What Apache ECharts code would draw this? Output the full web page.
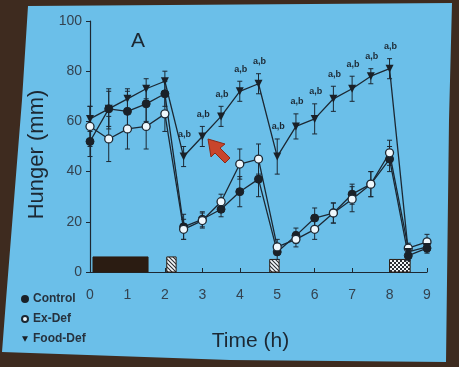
<!DOCTYPE html>
<html><head><meta charset="utf-8">
<script src="https://cdn.jsdelivr.net/npm/echarts@6/dist/echarts.min.js"></script>
<style>html,body{margin:0;padding:0;background:#3e2b1f}#c{width:459px;height:367px}</style>
</head><body><div id="c"></div>
<script>
// ---- data ----
const times       = [0,0.5,1,1.5,2,2.5,3,3.5,4,4.5,5,5.5,6,6.5,7,7.5,8,8.5,9];
const controlVals = [52,65,64,67,71,18,21,25,32,37,8,14.5,21.5,23.5,31,35,45,6.5,9.5];
const controlErr  = [6,8,8,7,5,5,3,3,6,7,3,3,4,4,4,5,5,2,2];
const exDefVals   = [58,53,57,58,63,17,20.5,28,43,45,10,13,17,23.5,29,35,47.5,9.5,12];
const exDefErr    = [8,9,8,9,7,4,3,3,6,6,3,3,4,4,5,5,5,2,3];
const foodDefVals = [61,65,69,73,76,46,54,62,72,75,46,58,61,69,73,78,81,8,10];
const foodDefErr  = [5,7,4,4,4,4,4,4,4,4,7,5,6,5,5,3,4,2,2];
const foodDefAnnot= ['','','','','','a,b','a,b','a,b','a,b','a,b','a,b','a,b','a,b','a,b','a,b','a,b','a,b','',''];
const seriesNames = ['Control','Ex-Def','Food-Def'];
// time periods drawn on the x axis: [start, end, height, kind]
const periodStart = [0.08, 2.05, 4.8, 8.0];
const periodEnd   = [1.55, 2.3, 5.05, 8.55];
const periodH     = [6, 6, 5, 5];
const periodKind  = [0, 1, 1, 2]; // 0 solid, 1 hatch, 2 checker
const xMin = 0, xMax = 9, xStep = 1;
const yMin = 0, yMax = 100, yStep = 20;

const INK = '#1c2833';
function pair(vals){ return times.map((t,i)=>[t, vals[i]]); }
function errData(vals, err){ return times.map((t,i)=>[t, vals[i]-err[i], vals[i]+err[i]]); }

function makeHatch(){
  const c = document.createElement('canvas'); c.width = 4; c.height = 4;
  const g = c.getContext('2d'); g.fillStyle = '#f4f8fb'; g.fillRect(0,0,4,4);
  g.strokeStyle = '#2a2f35'; g.lineWidth = 1.1;
  g.beginPath(); g.moveTo(-1,-1); g.lineTo(5,5); g.moveTo(-1,3); g.lineTo(1,5); g.moveTo(3,-1); g.lineTo(5,1); g.stroke();
  return c;
}
function makeChecker(){
  const c = document.createElement('canvas'); c.width = 4; c.height = 4;
  const g = c.getContext('2d'); g.fillStyle = '#f4f8fb'; g.fillRect(0,0,4,4);
  g.fillStyle = '#2a2f35'; g.fillRect(0,0,2,2); g.fillRect(2,2,2,2);
  return c;
}
const hatch = makeHatch(), checker = makeChecker();

function errRender(annot){
  return function(params, api){
    const x = api.value(0), lo = api.value(1), hi = api.value(2);
    const a = api.coord([x, hi]), b = api.coord([x, lo]);
    const w = 2.5, st = {stroke: INK, lineWidth: 1};
    const ch = [
      {type:'line', shape:{x1:a[0],y1:a[1],x2:b[0],y2:b[1]}, style:st},
      {type:'line', shape:{x1:a[0]-w,y1:a[1],x2:a[0]+w,y2:a[1]}, style:st},
      {type:'line', shape:{x1:b[0]-w,y1:b[1],x2:b[0]+w,y2:b[1]}, style:st}
    ];
    if (annot && annot[params.dataIndex]) {
      ch.push({type:'text', x:a[0]+1, y:a[1]-12, style:{text:annot[params.dataIndex], fill:INK,
        font:'bold 9px "Liberation Sans", Arial, sans-serif', align:'center', verticalAlign:'middle'}});
    }
    return {type:'group', children: ch};
  };
}

const chart = echarts.init(document.getElementById('c'), null, {renderer:'canvas'});
const font = '"Liberation Sans", Arial, sans-serif';
chart.setOption({
  backgroundColor: '#3e2b1f',
  animation: false,
  graphic: [
    {type:'polygon', z:-10, silent:true,
     shape:{points:[[28,6],[452,3],[449,120],[446,362],[230,360],[2,352],[6,300],[14,200],[22,100]]},
     style:{fill:'#6bbfe9'}},
    {type:'polygon', z:100, silent:true,
     shape:{points:[[208,139],[225,144],[220,148],[230,158],[225,163],[215,153],[211,157]]},
     style:{fill:'#c9452c', stroke:'#8a2a18', lineWidth:1}}
  ],
  title: {text:'A', left:126, top:26, textStyle:{fontFamily:font, fontSize:21, fontWeight:'normal', color:INK}},
  legend: {
    orient:'vertical', left:16, top:287, itemWidth:6, itemHeight:6, itemGap:6,
    textStyle:{fontFamily:font, fontSize:12, fontWeight:'bold', color:'#26323e', lineHeight:14},
    data:[
      {name:seriesNames[0], icon:'circle'},
      {name:seriesNames[1], icon:'circle'},
      {name:seriesNames[2], icon:'path://M0,0L10,0L5,9Z'}
    ]
  },
  grid: {left:90, right:32, top:21, bottom:95},
  xAxis: {
    type:'value', min:xMin, max:xMax, interval:xStep,
    name:'Time (h)', nameLocation:'middle', nameGap:59,
    nameTextStyle:{fontFamily:font, fontSize:21, color:INK, padding:[0,16,0,0]},
    axisLine:{lineStyle:{color:INK, width:1.2}},
    axisTick:{inside:true, length:4, lineStyle:{color:INK}},
    axisLabel:{fontFamily:font, fontSize:14, color:'#34424f', margin:16},
    splitLine:{show:false}
  },
  yAxis: {
    type:'value', min:yMin, max:yMax, interval:yStep,
    name:'Hunger (mm)', nameLocation:'middle', nameGap:38,
    nameTextStyle:{fontFamily:font, fontSize:22, color:INK, padding:[0,0,0,-16]},
    axisLine:{show:true, lineStyle:{color:INK, width:1.2}},
    axisTick:{show:true, inside:false, length:4, lineStyle:{color:INK}},
    axisLabel:{fontFamily:font, fontSize:14, color:'#34424f', margin:8},
    splitLine:{show:false}
  },
  series: [
    {type:'custom', name:'periods', silent:true, z:1,
     data: periodStart.map((s,i)=>[s, periodEnd[i], periodH[i], periodKind[i]]),
     renderItem:function(params, api){
       const p0 = api.coord([api.value(0), api.value(2)]);
       const p1 = api.coord([api.value(1), 0]);
       const k = api.value(3);
       const fill = k===0 ? '#2b1c12' : {image: k===1 ? hatch : checker, repeat:'repeat'};
       return {type:'rect', shape:{x:p0[0], y:p0[1], width:p1[0]-p0[0], height:p1[1]-p0[1]},
               style:{fill:fill, stroke:'#2b1c12', lineWidth:1}};
     }},
    {type:'custom', name:'errC', silent:true, z:2, data:errData(controlVals, controlErr), renderItem:errRender(null)},
    {type:'custom', name:'errE', silent:true, z:2, data:errData(exDefVals, exDefErr), renderItem:errRender(null)},
    {type:'custom', name:'errF', silent:true, z:2, data:errData(foodDefVals, foodDefErr), renderItem:errRender(foodDefAnnot)},
    {type:'line', name:seriesNames[0], z:5, data:pair(controlVals), symbol:'circle', symbolSize:8,
     lineStyle:{color:INK, width:1.3}, itemStyle:{color:'#1a2128', borderColor:'#1a2128', borderWidth:1}},
    {type:'line', name:seriesNames[1], z:5, data:pair(exDefVals), symbol:'circle', symbolSize:8,
     lineStyle:{color:INK, width:1.3}, itemStyle:{color:'#eef7fc', borderColor:INK, borderWidth:1.3}},
    {type:'line', name:seriesNames[2], z:5, data:pair(foodDefVals), symbol:'path://M0,0L10,0L5,9Z', symbolSize:8,
     lineStyle:{color:INK, width:1.3}, itemStyle:{color:'#1a2128'}}
  ]
});
</script></body></html>
